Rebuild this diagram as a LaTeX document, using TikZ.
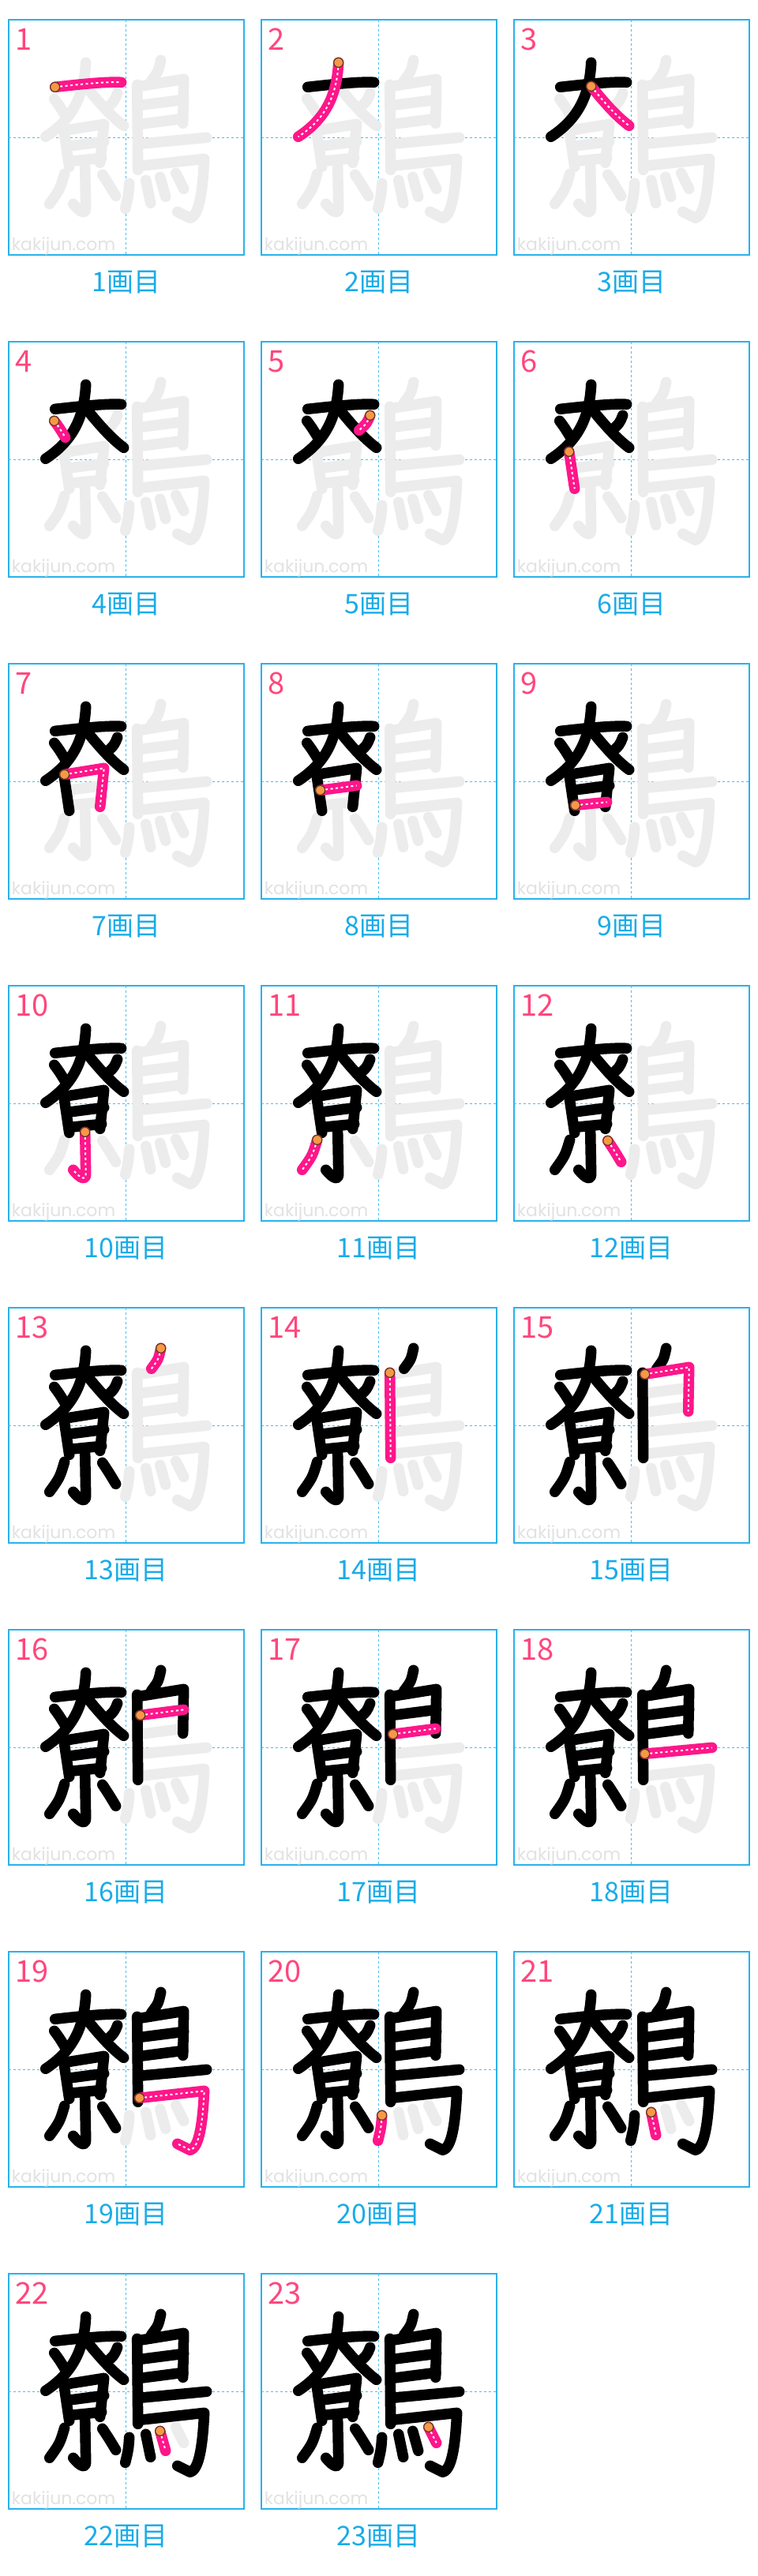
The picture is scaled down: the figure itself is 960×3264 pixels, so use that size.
\documentclass[tikz,border=0pt]{standalone}
\usepackage{fontspec}
\newfontfamily\jpfont{Noto Sans CJK JP}
\newfontfamily\markfont{Poppins}

\definecolor{boxblue}{RGB}{40,178,236}
\definecolor{guideblue}{RGB}{70,190,240}
\definecolor{ghostgray}{RGB}{236,236,236}
\definecolor{wmgray}{RGB}{226,226,226}
\definecolor{inkpink}{RGB}{255,22,138}
\definecolor{numpink}{RGB}{255,70,125}
\definecolor{dotorange}{RGB}{246,152,72}
\definecolor{dotbrown}{RGB}{95,55,25}
\definecolor{labelblue}{RGB}{25,172,232}

% one stroke: number, start point, rest of the path (cell coordinates, y down)
\newcommand{\defstk}[3]{%
  \expandafter\def\csname stk#1\endcsname{(#2) #3}%
  \expandafter\def\csname sst#1\endcsname{#2}}

% upper part
\defstk{1}{59,85}{.. controls (95,81) and (125,78) .. (143,79)}
\defstk{2}{98,54}{.. controls (96,95) and (82,125) .. (47,148)}
\defstk{3}{98,84}{.. controls (115,105) and (130,122) .. (146,134)}
\defstk{4}{58,100}{.. controls (64,108) .. (72,121)}
\defstk{5}{138,93}{.. controls (134,103) .. (124,112)}
\defstk{6}{70,139}{-- (77,186)}
\defstk{7}{71,140}{-- (121,132) -- (116,181)}
\defstk{8}{75,160}{-- (121,154)}
\defstk{9}{78,179}{-- (118,175)}
\defstk{10}{97,185}{-- (98,238) .. controls (98,247) and (91,244) .. (82,233)}
\defstk{11}{71,195}{.. controls (65,215) .. (52,233)}
\defstk{12}{119,196}{.. controls (127,208) .. (136,223)}
% bird part
\defstk{13}{193,51}{.. controls (190,65) .. (181,77)}
\defstk{14}{163,82}{-- (164,190)}
\defstk{15}{166,84}{-- (222,75) -- (221,131)}
\defstk{16}{167,108}{-- (222,101)}
\defstk{17}{167,132}{-- (221,125)}
\defstk{18}{166,157}{-- (251,149)}
\defstk{19}{166,185}{-- (248,176) .. controls (246,215) and (242,248) .. (230,251) -- (214,243)}
\defstk{20}{153,207}{.. controls (152,222) .. (148,239)}
\defstk{21}{174,203}{-- (180,232)}
\defstk{22}{192,199}{-- (199,224)}
\defstk{23}{212,194}{-- (222,214)}

\tikzset{
  cellbox/.style={draw=boxblue, line width=2pt},
  guide/.style={draw=guideblue, line width=1.5pt, dash pattern=on 3pt off 3pt},
  pen/.style={line width=13.5pt, line cap=round, line join=round},
  trace/.style={draw=white, line width=2pt, dash pattern=on 3pt off 3.5pt},
  startdot/.style={fill=dotorange, draw=dotbrown, line width=1.2pt},
}

\begin{document}
\begin{tikzpicture}[x=1pt, y=-1pt]
  \useasboundingbox[fill=white] (0,0) rectangle (960,3264);

  \foreach \n in {1,...,23}{
    \pgfmathtruncatemacro\col{mod(\n-1,3)}
    \pgfmathtruncatemacro\row{div(\n-1,3)}
    \pgfmathtruncatemacro\prev{\n-1}
    \begin{scope}[shift={(10.7+320*\col, 25.3+408*\row)}]
      % frame and guide lines
      \draw[cellbox] (0,0) rectangle (298,298);
      \draw[guide] (149,0) -- (149,298);
      \draw[guide] (0,149) -- (298,149);
      \node[anchor=base west, inner sep=0, text=wmgray,
        font=\markfont\fontsize{22}{22}\selectfont] (wm\n) at (4,292) {kakijun.com};

      % whole character in light gray
      \foreach \k in {1,...,23}{
        \expandafter\let\expandafter\cur\csname stk\k\endcsname
        \draw[pen, ghostgray] \cur;
      }
      % strokes already written
      \ifnum\n>1
        \foreach \k in {1,...,\prev}{
          \expandafter\let\expandafter\cur\csname stk\k\endcsname
          \draw[pen, black] \cur;
        }
      \fi
      % current stroke
      \expandafter\let\expandafter\cur\csname stk\n\endcsname
      \expandafter\let\expandafter\curst\csname sst\n\endcsname
      \draw[pen, inkpink] \cur;
      \draw[trace] \cur;
      \draw[startdot] (\curst) circle[radius=6];

      % numbers
      \node[anchor=base west, inner sep=0, text=numpink,
        font=\jpfont\fontsize{38}{38}\selectfont] (num\n) at (9,38) {\n};
      \node[anchor=base, inner sep=0, text=labelblue,
        font=\jpfont\fontsize{34}{34}\selectfont] (lab\n) at (149,344) {\n{}画目};
    \end{scope}
  }
\end{tikzpicture}
\end{document}
